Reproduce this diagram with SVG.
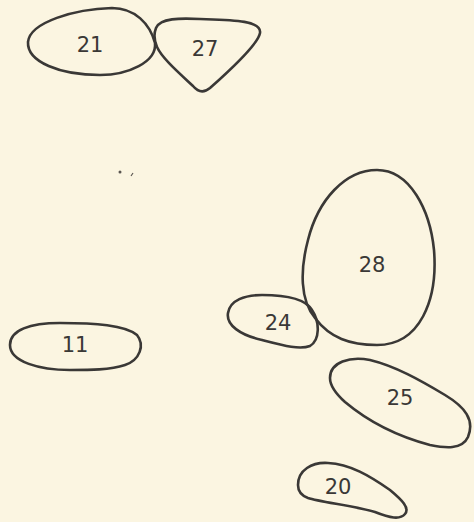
<svg xmlns="http://www.w3.org/2000/svg" width="474" height="522" viewBox="0 0 474 522">
<style>
.blob{fill:none;stroke:#3a3836;stroke-width:2.6;stroke-linejoin:round;stroke-linecap:round}
.lbl{font-family:"DejaVu Sans","Liberation Sans",sans-serif;font-size:21px;fill:#3a3836;text-anchor:middle;dominant-baseline:central}
</style>
<rect width="474" height="522" fill="#fbf5e1"/>
<g id="node-21"><path class="blob" d="M28,42 C30,22 75,9 112,8 C135,8 150,24 155,43 C157,62 128,75 100,75 C60,75 27,62 28,42 Z"/><text class="lbl" x="90" y="45">21</text></g>
<g id="node-27"><path class="blob" d="M156,28 C160,18 180,18 200,19 C230,20 262,20 260,33 C258,45 228,72 210,88 C204,93 198,92 193,86 C178,72 162,58 157,47 C154,40 154,33 156,28 Z"/><text class="lbl" x="205" y="49">27</text></g>
<g id="node-28"><path class="blob" d="M377,170 C410,170 430,210 434,250 C438,300 420,345 377,345 C350,345 330,338 315,318 C300,300 300,270 308,240 C318,200 345,170 377,170 Z"/><text class="lbl" x="372" y="265">28</text></g>
<g id="node-24"><path class="blob" d="M228,313 C230,300 245,295 262,295 C285,295 305,298 312,310 C320,322 320,340 310,346 C300,350 285,346 262,340 C240,335 226,325 228,313 Z"/><text class="lbl" x="278" y="323">24</text></g>
<g id="node-25"><path class="blob" d="M330,378 C330,362 350,356 370,360 C395,366 420,380 445,395 C465,407 475,420 468,437 C462,450 445,448 430,445 C400,437 370,423 345,402 C335,393 330,386 330,378 Z"/><text class="lbl" x="400" y="398">25</text></g>
<g id="node-20"><path class="blob" d="M298,485 C298,470 312,462 328,463 C350,464 370,476 390,490 C402,500 410,508 405,514 C400,520 390,518 375,512 C355,506 320,502 308,498 C300,495 298,490 298,485 Z"/><text class="lbl" x="338" y="487">20</text></g>
<g id="node-11"><path class="blob" d="M10,345 C10,330 30,323 60,323 C95,323 125,325 137,335 C145,345 140,360 125,365 C110,370 90,370 70,370 C40,370 10,362 10,345 Z"/><text class="lbl" x="75" y="345">11</text></g>
<g id="connectors"></g>
<g id="specks" fill="#5a5550"><circle cx="120" cy="172" r="1.5"/><path d="M131,176 L133,173" stroke="#5a5550" stroke-width="1.2"/></g>
</svg>
